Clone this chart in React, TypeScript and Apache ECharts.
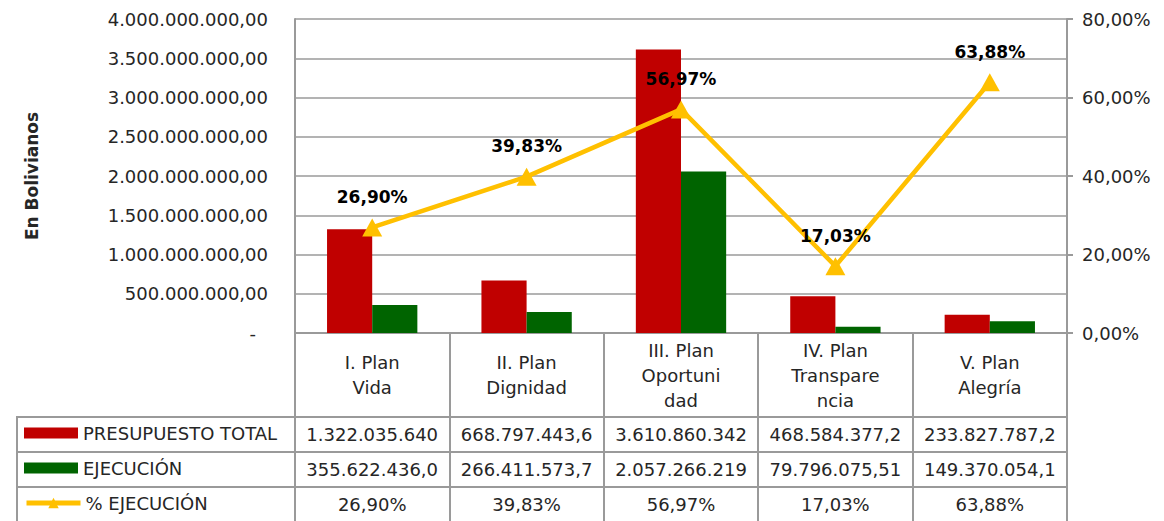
import React, { useEffect, useRef } from "react";
import * as echarts from "echarts";

const categories = [
  "I. Plan\nVida",
  "II. Plan\nDignidad",
  "III. Plan\nOportuni\ndad",
  "IV. Plan\nTranspare\nncia",
  "V. Plan\nAlegría",
];
const presupuesto = [1322035640.0, 668797443.6, 3610860342.0, 468584377.2, 233827787.2];
const ejecucion = [355622436.0, 266411573.7, 2057266219.0, 79796075.51, 149370054.1];
const pctEjecucion = [26.9, 39.83, 56.97, 17.03, 63.88];
const seriesNames = ["PRESUPUESTO TOTAL", "EJECUCIÓN", "% EJECUCIÓN"];
const yAxisTitle = "En Bolivianos";

const fmtEs = (n: number, dec: number) => {
  const [i, d] = Math.abs(n).toFixed(dec).split(".");
  const ip = i.replace(/\B(?=(\d{3})+(?!\d))/g, ".");
  return (n < 0 ? "-" : "") + ip + (d ? "," + d : "");
};
const cell = (n: number) => fmtEs(n, 2).slice(0, 13);

const FONT = "DejaVu Sans";
const TXT = "#262626";
const GRID = "#9a9a9a";
const RED = "#C00000";
const GREEN = "#006400";
const YELLOW = "#FFC000";

export default function App() {
  const ref = useRef<HTMLDivElement>(null);
  useEffect(() => {
    if (!ref.current) return;
    const chart = echarts.init(ref.current, undefined, { renderer: "svg" });
    const tableAxis = (offset: number, len: number, values: (i: number) => string) => ({
      type: "category",
      data: categories,
      position: "bottom",
      offset,
      gridIndex: 0,
      axisLine: { show: true, onZero: false, lineStyle: { color: GRID, width: 2 } },
      axisTick: { show: true, interval: 0, length: len, lineStyle: { color: GRID, width: 2 } },
      axisLabel: {
        interval: 0,
        margin: len / 2,
        verticalAlign: "middle",
        fontFamily: FONT,
        fontSize: 18,
        color: TXT,
        formatter: (_v: string, i: number) => values(i),
      },
    });
    const legendBase = {
      left: 24,
      padding: 0,
      itemWidth: 54,
      itemHeight: 11,
      selectedMode: false,
      textStyle: { fontFamily: FONT, fontSize: 18, color: TXT },
    };
    chart.setOption({
      animation: false,
      grid: { left: 295, right: 97, top: 19, bottom: 188, outerBoundsMode: "none" },
      legend: [
        { ...legendBase, data: [seriesNames[0]], icon: "rect", top: 424 },
        { ...legendBase, data: [seriesNames[1]], icon: "rect", top: 459 },
        {
          ...legendBase,
          data: [seriesNames[2]],
          top: 494,
          itemHeight: 13,
          lineStyle: { width: 5, color: YELLOW },
        },
      ],
      xAxis: [
        {
          type: "category",
          data: categories,
          position: "bottom",
          axisLine: { show: true, onZero: false, lineStyle: { color: GRID, width: 2 } },
          axisTick: { show: true, interval: 0, length: 84, lineStyle: { color: GRID, width: 2 } },
          axisLabel: {
            interval: 0,
            margin: 42,
            verticalAlign: "middle",
            lineHeight: 25,
            fontFamily: FONT,
            fontSize: 18,
            color: TXT,
          },
        },
        tableAxis(84, 35, (i) => cell(presupuesto[i])),
        tableAxis(119, 35, (i) => cell(ejecucion[i])),
        tableAxis(154, 34, (i) => fmtEs(pctEjecucion[i], 2) + "%"),
      ],
      yAxis: [
        {
          type: "value",
          min: 0,
          max: 4000000000,
          interval: 500000000,
          name: yAxisTitle,
          nameLocation: "middle",
          nameGap: 255,
          nameRotate: 90,
          nameTextStyle: { fontFamily: FONT, fontSize: 17, fontWeight: "bold", color: TXT },
          axisLine: { show: true, lineStyle: { color: GRID, width: 2 } },
          axisTick: { show: false },
          splitLine: { show: true, lineStyle: { color: GRID, width: 1.5 } },
          axisLabel: {
            margin: 27,
            fontFamily: FONT,
            fontSize: 18,
            color: TXT,
            formatter: (v: number) => (v === 0 ? "{d|-}" : fmtEs(v, 2)),
            rich: { d: { fontFamily: FONT, fontSize: 18, color: TXT, padding: [0, 12, 0, 0] } },
          },
        },
        {
          type: "value",
          min: 0,
          max: 80,
          interval: 20,
          position: "right",
          axisLine: { show: true, lineStyle: { color: GRID, width: 2 } },
          axisTick: { show: true, length: 6, lineStyle: { color: GRID, width: 2 } },
          splitLine: { show: false },
          axisLabel: {
            margin: 15,
            fontFamily: FONT,
            fontSize: 18,
            color: TXT,
            formatter: (v: number) => fmtEs(v, 2) + "%",
          },
        },
      ],
      graphic: [
        { type: "line", shape: { x1: 17, y1: 417, x2: 295, y2: 417 }, style: { stroke: GRID, lineWidth: 2 } },
        { type: "line", shape: { x1: 17, y1: 452, x2: 295, y2: 452 }, style: { stroke: GRID, lineWidth: 2 } },
        { type: "line", shape: { x1: 17, y1: 487, x2: 295, y2: 487 }, style: { stroke: GRID, lineWidth: 2 } },
        { type: "line", shape: { x1: 17, y1: 416, x2: 17, y2: 521 }, style: { stroke: GRID, lineWidth: 2 } },
      ],
      series: [
        {
          name: seriesNames[0],
          type: "bar",
          data: presupuesto,
          itemStyle: { color: RED },
          barGap: "0%",
          barCategoryGap: "41.5%",
        },
        {
          name: seriesNames[1],
          type: "bar",
          data: ejecucion,
          itemStyle: { color: GREEN },
        },
        {
          name: seriesNames[2],
          type: "line",
          yAxisIndex: 1,
          data: pctEjecucion,
          symbol: "triangle",
          symbolSize: [20, 18],
          lineStyle: { color: YELLOW, width: 4.5 },
          itemStyle: { color: YELLOW },
          z: 5,
          label: {
            show: true,
            position: "top",
            distance: 13,
            fontFamily: FONT,
            fontSize: 17,
            fontWeight: "bold",
            color: "#000",
            formatter: (p: any) => fmtEs(p.value, 2) + "%",
          },
        },
      ],
    });
    return () => chart.dispose();
  }, []);
  return (
    <div
      ref={ref}
      style={{ position: "fixed", left: 0, top: 0, width: 1164, height: 521, background: "#fff" }}
    />
  );
}
